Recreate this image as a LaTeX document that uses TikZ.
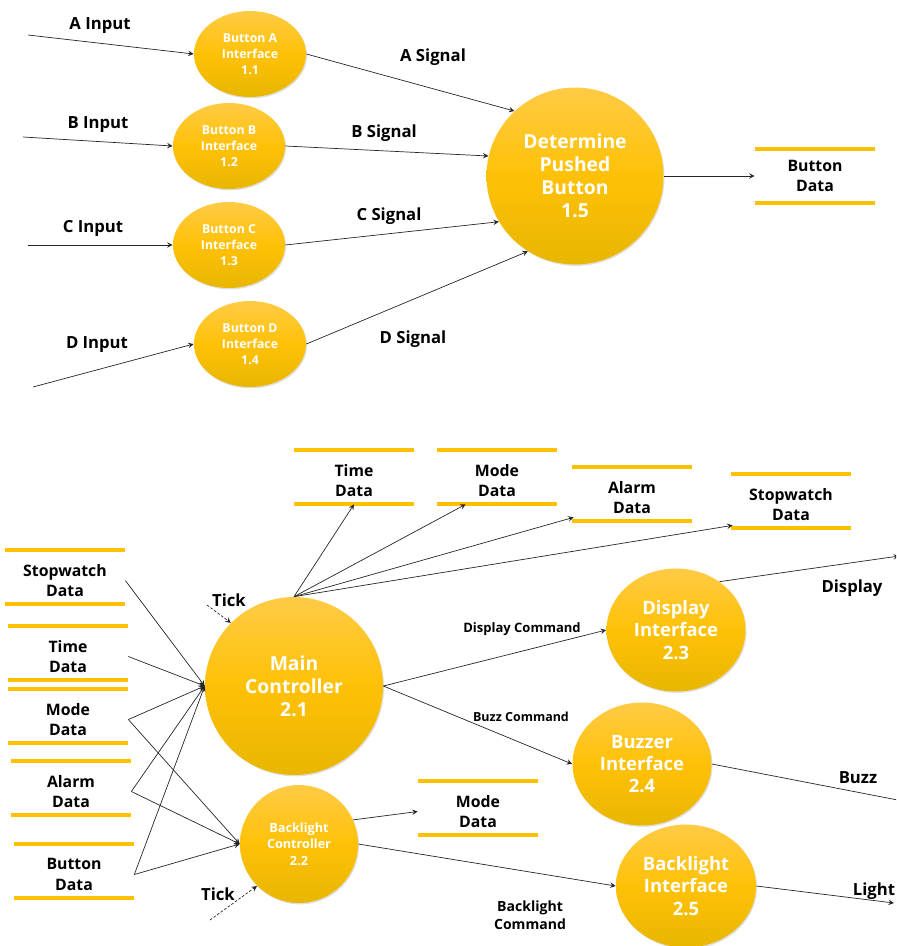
\documentclass[tikz,border=0pt]{standalone}
\usepackage{fontspec}
\setmainfont{Open Sans}
\usepackage{tikz}
\usetikzlibrary{positioning,shapes.geometric,shadows}

\definecolor{procTop}{HTML}{FFCB45}
\definecolor{procMid}{HTML}{FFC107}
\definecolor{procBot}{HTML}{E8B600}
\definecolor{storeGold}{HTML}{FFC000}

\tikzset{
  proc/.style={circle, inner sep=0pt, align=center, text=white, font=\bfseries,
    top color=procTop, bottom color=procBot, middle color=procMid,
    drop shadow={opacity=0.25, shadow xshift=0.6pt, shadow yshift=-0.8pt}},
  iface/.style={proc, ellipse, minimum width=2.24cm, minimum height=1.72cm,
    font=\bfseries\fontsize{7}{9}\selectfont},
  store/.style={minimum width=2.4cm, minimum height=1.08cm, inner sep=0pt,
    align=center, font=\bfseries\fontsize{9}{11.5}\selectfont},
  storeline/.style={storeGold, line width=2.3pt},
  lbl/.style={font=\bfseries\fontsize{9.5}{11}\selectfont},
  flow/.style={->, >=stealth, black!85, line width=0.4pt},
  tickflow/.style={flow, dashed, dash pattern=on 1.5pt off 1pt}
}

\begin{document}
\begin{tikzpicture}[x=0.02cm, y=-0.02cm]
  \useasboundingbox (0,0) rectangle (896,946);
  \clip (0,0) rectangle (896,946);

  % part 1: buttons
  \node[iface] (ba) at (250,54) {Button A\\Interface\\1.1};
  \node[iface] (bb) at (229,146) {Button B\\Interface\\1.2};
  \node[iface] (bc) at (229,245) {Button C\\Interface\\1.3};
  \node[iface] (bd) at (250,344) {Button D\\Interface\\1.4};
  \node[proc, minimum size=3.54cm, font=\bfseries\fontsize{11}{13}\selectfont] (dpb) at (575,176) {Determine\\Pushed\\Button\\1.5};
  \node[store] (bdata) at (815,176) {Button\\Data};
  \draw[storeline] (bdata.north west) -- (bdata.north east);
  \draw[storeline] (bdata.south west) -- (bdata.south east);

  \coordinate (ina) at (28,35);
  \coordinate (inb) at (23,137);
  \coordinate (inc) at (28,245);
  \coordinate (ind) at (33,387);
  \node[lbl] (lina) at (100,26) {A Input};
  \node[lbl] (linb) at (98,125) {B Input};
  \node[lbl] (linc) at (93,228) {C Input};
  \node[lbl] (lind) at (97,345) {D Input};
  \node[lbl] (lsa) at (433,57) {A Signal};
  \node[lbl] (lsb) at (384,133) {B Signal};
  \node[lbl] (lsc) at (389,216) {C Signal};
  \node[lbl] (lsd) at (413,339) {D Signal};

  \draw[flow] (ina) -- (ba.west);
  \draw[flow] (inb) -- (bb.west);
  \draw[flow] (inc) -- (bc.west);
  \draw[flow] (ind) -- (bd.west);
  \draw[flow] (ba.east) -- (dpb.133);
  \draw[flow] (bb.east) -- (dpb.167);
  \draw[flow] (bc.east) -- (dpb.211);
  \draw[flow] (bd.east) -- (dpb.238);
  \draw[flow] (dpb.east) -- (bdata.west);

  % part 2: controllers
  \node[proc, minimum size=3.56cm, font=\bfseries\fontsize{11}{13}\selectfont] (main) at (294,686) {Main\\Controller\\2.1};
  \node[proc, minimum size=2.36cm, font=\bfseries\fontsize{7.2}{9.4}\selectfont] (blc) at (299,844) {Backlight\\Controller\\2.2};
  \node[proc, ellipse, minimum width=2.78cm, minimum height=2.46cm, font=\bfseries\fontsize{10.5}{12.6}\selectfont] (disp) at (676,630) {Display\\Interface\\2.3};
  \node[proc, ellipse, minimum width=2.78cm, minimum height=2.46cm, font=\bfseries\fontsize{10.5}{12.6}\selectfont] (buzz) at (642,764) {Buzzer\\Interface\\2.4};
  \node[proc, ellipse, minimum width=2.8cm, minimum height=2.46cm, font=\bfseries\fontsize{10.5}{12.6}\selectfont] (bli) at (686,886) {Backlight\\Interface\\2.5};

  % data stores (text sits a little below the middle of the bars)
  \node[store] (tdt) at (354,480.5) {Time\\Data};
  \node[store] (mdt) at (497,480.5) {Mode\\Data};
  \node[store] (adt) at (632,497.5) {Alarm\\Data};
  \node[store] (sdt) at (791,504.5) {Stopwatch\\Data};
  \node[store] (sdl) at (65,580.5) {Stopwatch\\Data};
  \node[store] (tdl) at (68,656.5) {Time\\Data};
  \node[store] (mdl) at (68,719.5) {Mode\\Data};
  \node[store] (adl) at (71,791.5) {Alarm\\Data};
  \node[store] (bdl) at (74,874.5) {Button\\Data};
  \node[store] (mdb) at (478,811.5) {Mode\\Data};
  \foreach \s in {tdt,mdt,adt,sdt,sdl,tdl,mdl,adl,bdl,mdb} {
    \draw[storeline] ([yshift=0.07cm]\s.north west) -- ([yshift=0.07cm]\s.north east);
    \draw[storeline] ([yshift=0.07cm]\s.south west) -- ([yshift=0.07cm]\s.south east);
  }

  \node[lbl] (tickm) at (229,600) {Tick};
  \node[lbl] (tickb) at (218,894) {Tick};
  \coordinate (tm) at (207,605);
  \coordinate (tb) at (210,920);
  \node[font=\bfseries\fontsize{7.4}{9}\selectfont] (ldc) at (522,629) {Display Command};
  \node[font=\bfseries\fontsize{7.1}{9}\selectfont] (lbc) at (521,717) {Buzz Command};
  \node[align=center, font=\bfseries\fontsize{8}{10}\selectfont] (lblc) at (530,915) {Backlight\\Command};
  \node[lbl] (ldisp) at (852,588) {Display};
  \node[lbl] (lbuzz) at (858,778) {Buzz};
  \node[lbl] (llight) at (874,891) {Light};
  \coordinate (odisp) at (899,556);
  \coordinate (obuzz) at (908,802);
  \coordinate (olight) at (894,903);

  % main controller writes
  \draw[flow] (main.north) -- ([yshift=0.07cm]tdt.south);
  \draw[flow] (main.north) -- ([xshift=0.58cm,yshift=0.07cm]mdt.south west);
  \draw[flow] (main.north) -- ([xshift=0.04cm,yshift=0.15cm]adt.south west);
  \draw[flow] (main.north) -- ([xshift=0.04cm,yshift=0.13cm]sdt.south west);
  \draw[flow] (main.east) -- (disp.west);
  \draw[flow] (main.east) -- (buzz.west);
  \draw[tickflow] (tm) -- (main.135);

  % reads
  \draw[flow] (sdl.east) -- (main.west);
  \draw[flow] (tdl.east) -- (main.west);
  \draw[flow] (mdl.east) -- (main.west);
  \draw[flow] (adl.east) -- (main.west);
  \draw[flow] (bdl.east) -- (main.west);
  \draw[flow] (mdl.east) -- (blc.west);
  \draw[flow] (adl.east) -- (blc.west);
  \draw[flow] (bdl.east) -- (blc.west);
  \draw[tickflow] (tb) -- (blc.225);

  % backlight controller
  \draw[flow] (blc.24) -- (mdb.west);
  \draw[flow] (blc.east) -- (bli.west);

  % outputs
  \draw[flow] (disp.48) -- (odisp);
  \draw[flow] (buzz.east) -- (obuzz);
  \draw[flow] (bli.east) -- (olight);
\end{tikzpicture}
\end{document}
